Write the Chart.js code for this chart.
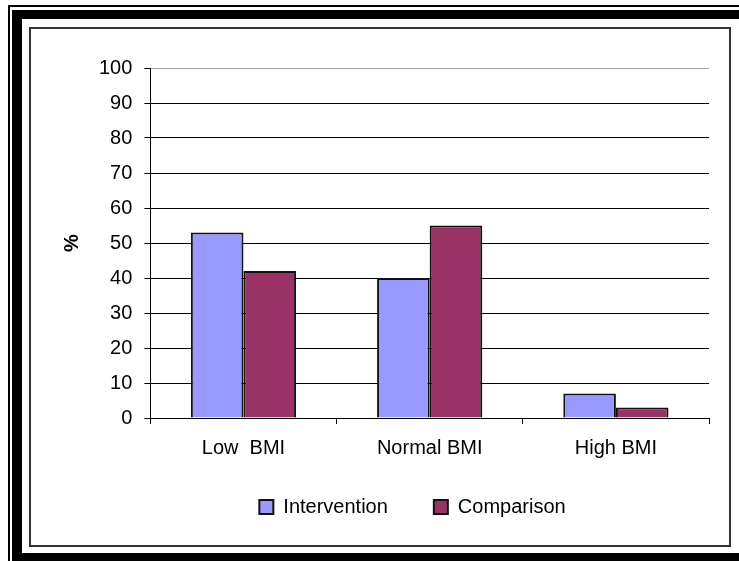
<!DOCTYPE html>
<html>
<head>
<meta charset="utf-8">
<script src="https://cdn.jsdelivr.net/npm/chart.js@4.4.0/dist/chart.umd.min.js"></script>
<style>
  html, body { margin: 0; padding: 0; background: #fff; overflow: hidden; }
  body { width: 739px; height: 561px; position: relative; }
  #thin { position: absolute; left: 8px; top: 5px; width: 800px; height: 700px; border-left: 2px solid #000; border-top: 2px solid #000; }
  #thick { position: absolute; box-sizing: border-box; left: 12px; top: 10px; width: 760px; height: 552px; border-style: solid; border-color: #000; border-width: 9px 10px 9px 10px; }
  #frame { position: absolute; box-sizing: border-box; left: 29px; top: 27px; width: 702px; height: 520px; border: 2px solid #333; }
  #wrap { position: absolute; left: 31px; top: 29px; width: 698px; height: 516px; }
</style>
</head>
<body>
<div id="thin"></div>
<div id="thick"></div>
<div id="frame"></div>
<div id="wrap"><canvas id="chart"></canvas></div>
<script>
// BMI groups and the share (%) in each group
const categories = ['Low  BMI', 'Normal BMI', 'High BMI'];
const seriesNames = ['Intervention', 'Comparison'];
const interventionValues = [53, 40, 7];
const comparisonValues = [42, 55, 3];
const yMin = 0;
const yMax = 100;
const yStep = 10;

Chart.defaults.font.family = '"Liberation Sans", Arial, sans-serif';
Chart.defaults.color = '#000';

// move the legend a bit, Excel had it placed by hand
const legendShift = {
  id: 'legendShift',
  afterLayout(chart) {
    const lg = chart.legend;
    lg.left += 28;
    lg.right += 28;
    lg.top -= 9;
    lg.bottom -= 9;
  }
};

const ctx = document.getElementById('chart').getContext('2d');
const chart = new Chart(ctx, {
  type: 'bar',
  data: {
    labels: categories,
    datasets: [{
      label: seriesNames[0],
      data: interventionValues,
      backgroundColor: '#9999ff',
      borderColor: '#111',
      borderWidth: 2
    }, {
      label: seriesNames[1],
      data: comparisonValues,
      backgroundColor: '#993366',
      borderColor: '#111',
      borderWidth: 2
    }]
  },
  options: {
    responsive: true,
    maintainAspectRatio: false,
    animation: false,
    datasets: {
      bar: { categoryPercentage: 0.565, barPercentage: 1 }
    },
    layout: {
      padding: { left: 29, right: 20, top: 39, bottom: 9 }
    },
    plugins: {
      tooltip: { enabled: false },
      legend: {
        position: 'bottom',
        labels: {
          boxWidth: 14,
          boxHeight: 14,
          padding: 46,
          font: { size: 20 }
        }
      }
    },
    scales: {
      x: {
        ticks: { padding: 12, font: { size: 20 } },
        grid: {
          offset: true,
          color: c => c.index === categories.length ? '#a0a0a0' : 'rgba(0,0,0,0)',
          tickColor: '#000',
          tickLength: 6
        },
        border: { color: '#000', width: 1 },
        afterFit: scale => { scale.height -= 12; }
      },
      y: {
        min: yMin,
        max: yMax,
        ticks: { stepSize: yStep, padding: 12, font: { size: 20 } },
        grid: {
          color: c => c.tick && c.tick.value === yMax ? '#a0a0a0' : '#000',
          tickColor: '#000',
          tickLength: 6
        },
        border: { color: '#000', width: 1 },
        title: {
          display: true,
          text: '%',
          font: { size: 20, weight: 'bold' },
          padding: { top: 0, bottom: 3 }
        }
      }
    }
  },
  plugins: [legendShift]
});
</script>
</body>
</html>
